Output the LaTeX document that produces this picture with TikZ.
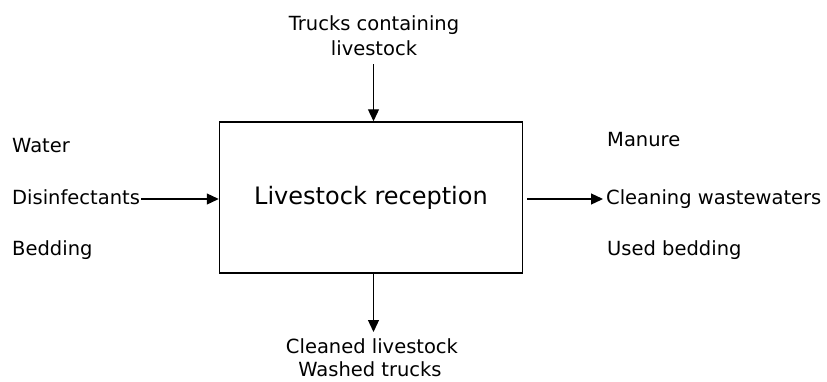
\documentclass[tikz,border=0pt]{standalone}
\usepackage{fontspec}
\setmainfont{DejaVu Sans}
\usetikzlibrary{arrows.meta}
\begin{document}
\begin{tikzpicture}[x=1pt,y=-1pt,
  lbl/.style={inner sep=0pt,font=\fontsize{19.5}{25}\selectfont},
  proc/.style={draw,line width=1.5pt,minimum width=303pt,minimum height=151pt,inner sep=0pt,font=\fontsize{24}{28}\selectfont},
  arr/.style={line width=1.3pt,-{Triangle[length=12pt,width=11pt]}}]
\useasboundingbox (0,0) rectangle (827,381);
\node[proc] (box) at (371,197.5) {Livestock reception};
% top input
\node[lbl,anchor=base] (t1) at (374,30) {Trucks containing};
\node[lbl,anchor=base] (t2) at (374,55) {livestock};
\coordinate (tin) at (373.5,64);
\draw[arr] (tin) -- (tin |- box.north);
% left inputs
\node[lbl,anchor=base west] (water) at (12,152) {Water};
\node[lbl,anchor=base west] (dis) at (12,204) {Disinfectants};
\node[lbl,anchor=base west] (bed) at (12,255) {Bedding};
\coordinate (lin) at (141,199);
\draw[arr] (lin) -- (lin -| box.west);
% right outputs
\node[lbl,anchor=base west] (man) at (607,146) {Manure};
\node[lbl,anchor=base west] (cww) at (606,204) {Cleaning wastewaters};
\node[lbl,anchor=base west] (ubed) at (607,255) {Used bedding};
\coordinate (rout) at (527,199);
\coordinate (rend) at (603,199);
\draw[arr] (rout) -- (rend);
% bottom output
\coordinate (bout) at (373.5,273);
\coordinate (bend) at (373.5,332);
\draw[arr] (bout) -- (bend);
\node[lbl,anchor=base] (b1) at (372,353) {Cleaned livestock};
\node[lbl,anchor=base] (b2) at (370,376.5) {Washed trucks};
\end{tikzpicture}
\end{document}
